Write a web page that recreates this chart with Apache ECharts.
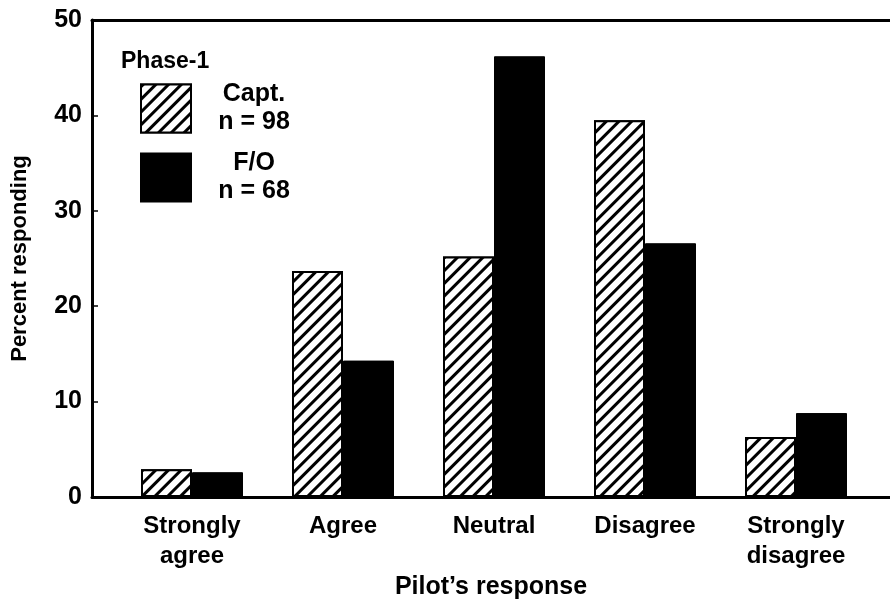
<!DOCTYPE html>
<html>
<head>
<meta charset="utf-8">
<script src="https://cdn.jsdelivr.net/npm/echarts@6/dist/echarts.min.js"></script>
<style>
  html, body { margin: 0; padding: 0; background: #fff; }
  #main { width: 890px; height: 607px; }
</style>
</head>
<body>
<div id="main"></div>
<script>
// 数据
var categories = ['Strongly\nagree', 'Agree', 'Neutral', 'Disagree', 'Strongly\ndisagree'];
var captValues = [2.9, 23.7, 25.2, 39.5, 6.3];
var foValues = [2.6, 14.3, 46.2, 26.6, 8.8];
var seriesNames = ['Capt.', 'F/O'];
var sampleSizes = [98, 68];
var yTicks = [0, 10, 20, 30, 40, 50];

var font = 'Liberation Sans';

// 斜线填充
var hatch = {
  symbol: 'rect',
  symbolSize: 1,
  dashArrayX: [1, 0],
  dashArrayY: [3, 6],
  rotation: -Math.PI / 4,
  color: '#000',
  backgroundColor: '#fff'
};

var myChart = echarts.init(document.getElementById('main'));
var option = {
  backgroundColor: '#fff',
  animation: false,
  textStyle: { fontFamily: font, fontWeight: 'bold', color: '#000' },
  title: {
    text: 'Phase-1',
    left: 116,
    top: 45,
    textStyle: { fontFamily: font, fontWeight: 'bold', fontSize: 23, color: '#000' }
  },
  legend: {
    orient: 'vertical',
    left: 140,
    top: 82,
    padding: 0,
    icon: 'rect',
    itemWidth: 50,
    itemHeight: 48,
    itemGap: 16,
    data: seriesNames,
    formatter: function (name) {
      var n = sampleSizes[seriesNames.indexOf(name)];
      return '{a|' + name + '}\n{a|n = ' + n + '}';
    },
    textStyle: {
      rich: {
        a: { width: 116, align: 'center', fontSize: 25, fontWeight: 'bold', fontFamily: font, lineHeight: 28, color: '#000' }
      }
    }
  },
  grid: [
    // 外框
    { left: 92, right: 0, top: 20, bottom: 110, outerBoundsMode: 'none' },
    // 柱子
    { left: 116.5, width: 755, top: 20, bottom: 110, outerBoundsMode: 'none' }
  ],
  xAxis: [
    {
      gridIndex: 0,
      type: 'value',
      min: 0,
      max: 1,
      position: 'bottom',
      axisLine: { show: true, lineStyle: { color: '#000', width: 3 } },
      axisTick: { show: false },
      axisLabel: { show: false },
      splitLine: { show: false },
      name: "Pilot\u2019s response",
      nameLocation: 'middle',
      nameGap: 78,
      nameTextStyle: { fontFamily: font, fontWeight: 'bold', fontSize: 25, color: '#000' }
    },
    {
      gridIndex: 0,
      type: 'value',
      min: 0,
      max: 1,
      position: 'top',
      axisLine: { show: true, lineStyle: { color: '#000', width: 3 } },
      axisTick: { show: false },
      axisLabel: { show: false },
      splitLine: { show: false }
    },
    {
      gridIndex: 1,
      type: 'category',
      data: categories,
      axisLine: { show: false },
      axisTick: { show: false },
      axisLabel: {
        margin: 14,
        fontFamily: font,
        fontWeight: 'bold',
        fontSize: 24,
        lineHeight: 30,
        color: '#000'
      }
    }
  ],
  yAxis: [
    {
      gridIndex: 0,
      type: 'value',
      min: yTicks[0],
      max: yTicks[yTicks.length - 1],
      interval: 10,
      axisLine: { show: true, lineStyle: { color: '#000', width: 3 } },
      axisTick: { show: true, inside: true, length: 6, lineStyle: { color: '#000', width: 1.5 } },
      axisLabel: { margin: 10, fontFamily: font, fontWeight: 'bold', fontSize: 25, color: '#000' },
      splitLine: { show: false },
      name: 'Percent responding',
      nameLocation: 'middle',
      nameGap: 61,
      nameTextStyle: { fontFamily: font, fontWeight: 'bold', fontSize: 22, color: '#000' }
    },
    {
      gridIndex: 1,
      type: 'value',
      min: 0,
      max: 50,
      show: false
    }
  ],
  series: [
    {
      name: seriesNames[0],
      type: 'bar',
      xAxisIndex: 2,
      yAxisIndex: 1,
      barWidth: 51,
      barGap: 0,
      data: captValues,
      itemStyle: {
        color: '#fff',
        borderColor: '#000',
        borderWidth: 2,
        decal: hatch
      }
    },
    {
      name: seriesNames[1],
      type: 'bar',
      xAxisIndex: 2,
      yAxisIndex: 1,
      barWidth: 51,
      barGap: 0,
      data: foValues,
      itemStyle: {
        color: '#000',
        borderColor: '#000',
        borderWidth: 1
      }
    }
  ]
};
myChart.setOption(option, true);
</script>
</body>
</html>
